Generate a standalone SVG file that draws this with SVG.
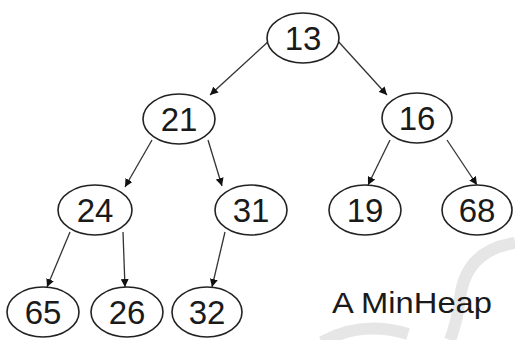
<svg xmlns="http://www.w3.org/2000/svg" width="515" height="340" viewBox="0 0 515 340">
<style>
.n ellipse{fill:#fff;stroke:#222;stroke-width:1.6}
.n text{font-family:"Liberation Sans",Arial,sans-serif;font-size:33px;fill:#1a1a1a;text-anchor:middle}
.c line{stroke:#333;stroke-width:1.3;marker-end:url(#ah)}
.lbl{font-family:"Liberation Sans",Arial,sans-serif;font-size:30px;fill:#1a1a1a}
.wm{fill:none;stroke:#e6e6e6;stroke-width:12}
</style>
<defs>
<marker id="ah" viewBox="0 0 10 10" refX="10" refY="5" markerWidth="8" markerHeight="8" markerUnits="userSpaceOnUse" orient="auto">
<path d="M0,0 L10,5 L0,10 z" fill="#111"/>
</marker>
</defs>
<rect width="515" height="340" fill="#fff"/>
<path class="wm" d="M515,243 Q466,250 460,298 Q457,322 450,340"/>
<path class="wm" d="M322,342 Q362,320 408,334"/>
<g class="c">
<line x1="270" y1="40" x2="210" y2="95"/>
<line x1="337" y1="40" x2="387" y2="95"/>
<line x1="152" y1="140" x2="125" y2="187"/>
<line x1="208" y1="140" x2="222" y2="186"/>
<line x1="390" y1="140" x2="368" y2="185"/>
<line x1="447" y1="140" x2="477" y2="185"/>
<line x1="70" y1="232" x2="47" y2="287"/>
<line x1="123" y1="232" x2="125" y2="287"/>
<line x1="225" y1="232" x2="212" y2="287"/>
</g>
<g id="n13" class="n"><ellipse cx="303" cy="38" rx="36" ry="25"/><text x="303" y="50">13</text></g>
<g id="n21" class="n"><ellipse cx="179" cy="119" rx="36" ry="25"/><text x="179" y="131">21</text></g>
<g id="n16" class="n"><ellipse cx="417" cy="118" rx="35" ry="25"/><text x="417" y="130">16</text></g>
<g id="n24" class="n"><ellipse cx="95" cy="210" rx="37" ry="25"/><text x="95" y="222">24</text></g>
<g id="n31" class="n"><ellipse cx="251" cy="210" rx="36" ry="25"/><text x="251" y="222">31</text></g>
<g id="n19" class="n"><ellipse cx="365" cy="210" rx="36" ry="25"/><text x="365" y="222">19</text></g>
<g id="n68" class="n"><ellipse cx="477" cy="210" rx="35" ry="25"/><text x="477" y="222">68</text></g>
<g id="n65" class="n"><ellipse cx="43" cy="312" rx="36" ry="25"/><text x="43" y="324">65</text></g>
<g id="n26" class="n"><ellipse cx="127" cy="312" rx="36" ry="25"/><text x="127" y="324">26</text></g>
<g id="n32" class="n"><ellipse cx="207" cy="312" rx="35" ry="25"/><text x="207" y="324">32</text></g>
<text class="lbl" x="332" y="313" textLength="160" lengthAdjust="spacingAndGlyphs">A MinHeap</text>
</svg>
